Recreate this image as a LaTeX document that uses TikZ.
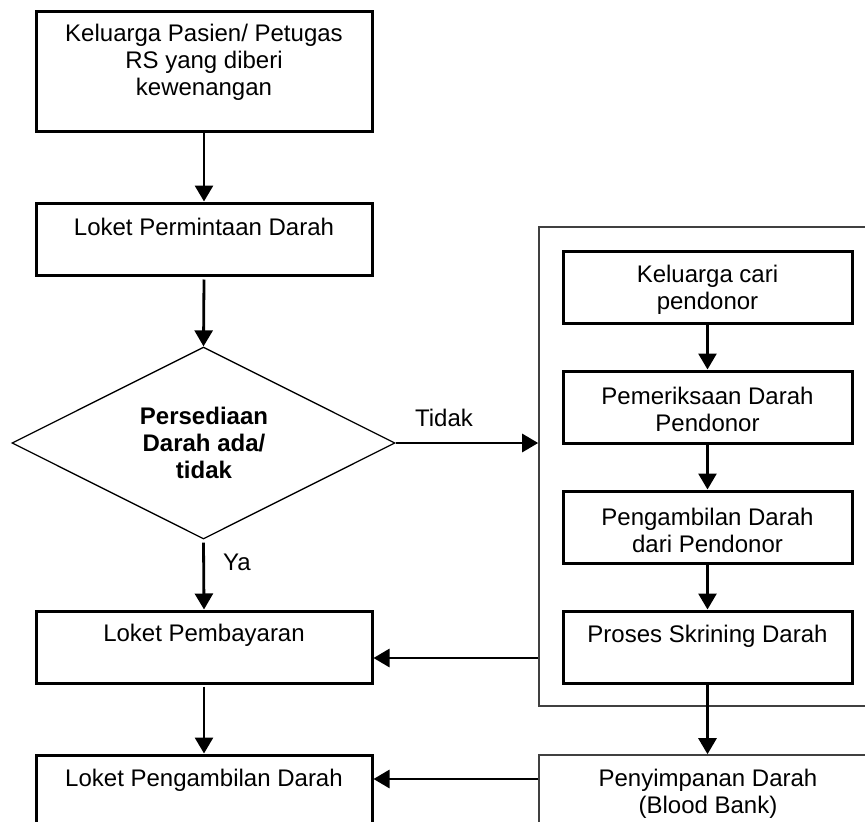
\documentclass[tikz,border=0pt]{standalone}
\usepackage{fontspec}
\setmainfont{Liberation Sans}
\usetikzlibrary{shapes.geometric,arrows.meta}
\begin{document}
\begin{tikzpicture}[x=1pt,y=-1pt,
  box/.style={draw, line width=3pt, inner sep=0pt, minimum width=336pt},
  ibox/.style={draw, line width=3pt, inner sep=0pt, minimum width=289pt, minimum height=72pt},
  gbox/.style={draw=black!75, line width=1.6pt, inner sep=0pt},
  txt/.style={align=center, inner sep=0pt, font=\fontsize{24}{27}\selectfont},
  arr/.style={line width=2.8pt, -{Triangle[length=16pt,width=18pt]}},
  every node/.style={inner sep=0pt}]
\useasboundingbox (0,0) rectangle (865,822);
% container
\node[gbox, minimum width=333pt, minimum height=479pt] (grp) at (705.5,466.5) {};
% left column
\node[box, minimum height=120pt] (b1) at (204,71) {};
\node[txt] (t1) at (204,62.5) {Keluarga Pasien/ Petugas\\RS yang diberi\\kewenangan};
\node[box, minimum height=72pt] (b2) at (204,239) {};
\node[txt] (t2) at (204,227) {Loket Permintaan Darah};
\node[draw, line width=1.3pt, diamond, minimum width=383pt, minimum height=192pt, aspect=2] (d) at (203.5,443) {};
\node[txt, font=\fontsize{24}{27}\selectfont\bfseries] (td) at (204,443) {Persediaan\\Darah ada/\\tidak};
\node[box, minimum height=72pt] (b3) at (204,647) {};
\node[txt] (t3) at (204,635) {Loket Pembayaran};
\node[box, minimum height=70pt] (b4) at (204,790) {};
\node[txt] (t4) at (204,780) {Loket Pengambilan Darah};
% right column
\node[ibox] (ra) at (707.5,287) {};
\node[txt] (ta) at (707.5,290) {Keluarga cari\\pendonor};
\node[ibox] (rb) at (707.5,407) {};
\node[txt] (tb) at (707.5,409.5) {Pemeriksaan Darah\\Pendonor};
\node[ibox] (rc) at (707.5,527) {};
\node[txt] (tc) at (707.5,530) {Pengambilan Darah\\dari Pendonor};
\node[ibox] (rd) at (707.5,647) {};
\node[txt] (tdd) at (707.5,636) {Proses Skrining Darah};
\node[gbox, minimum width=333pt, minimum height=70pt] (ps) at (705.5,790) {};
\node[txt] (tps) at (708,793.5) {Penyimpanan Darah\\(Blood Bank)};
% labels
\node[txt] (ltidak) at (444,418) {Tidak};
\node[txt] (lya) at (237,562) {Ya};
% connector heights
\coordinate (yp) at (0,658);
\coordinate (yb) at (0,779);
% connectors
\draw[arr] (b1.south) -- (b2.north);
\draw[arr] ([yshift=-3pt]b2.south) -- (d.north);
\draw[arr] (d.east) -- (d.east -| grp.west);
\draw[arr] ([yshift=-3pt]d.south) -- (b3.north);
\draw[arr] (grp.west |- yp) -- (b3.east |- yp);
\draw[arr] ([yshift=-2pt]b3.south) -- (b4.north);
\draw[arr] (ra.south) -- (rb.north);
\draw[arr] (rb.south) -- (rc.north);
\draw[arr] (rc.south) -- (rd.north);
\draw[arr] (rd.south) -- (ps.north -| rd.south);
\draw[arr] (ps.west |- yb) -- (b4.east |- yb);
\end{tikzpicture}
\end{document}
